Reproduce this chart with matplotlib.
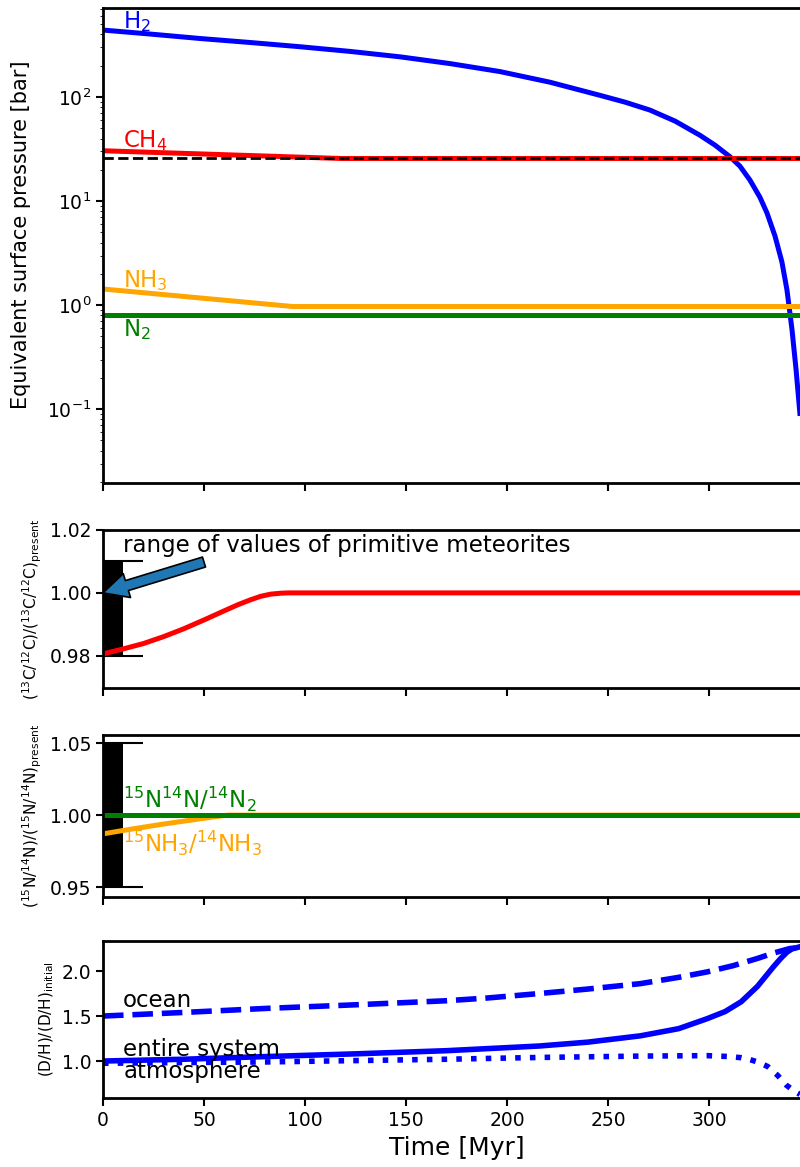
import numpy as np
import matplotlib
matplotlib.use('Agg')
import matplotlib.pyplot as plt

# Давления [bar]
t_h2 = [0, 23.3, 48, 72.8, 97.5, 122.3, 147, 171.8, 196.5, 221.3, 246, 258.4, 270.8,
        283.2, 295.5, 303, 310.4, 315.3, 320.3, 325.2, 328.7, 332.7, 336.1, 338.6,
        341.1, 343.1, 345]
p_h2 = [441, 404, 366, 335, 305, 275, 244, 210, 176, 139, 104, 89.5, 75,
        58.8, 43, 34.5, 26.7, 21.7, 15.9, 10.9, 7.7, 4.6, 2.6, 1.4,
        0.58, 0.24, 0.091]
t_ch4 = [0, 118, 350]
p_ch4 = [30.5, 25.7, 25.7]
p_ch4_ref = 25.7
t_nh3 = [0, 94, 350]
p_nh3 = [1.43, 0.97, 0.97]
p_n2 = 0.80

# Изотопы углерода
t_c = [0, 10, 20, 30, 40, 50, 60, 67, 73, 78, 83, 88, 92, 350]
r_c = [0.9806, 0.9822, 0.9839, 0.9861, 0.9886, 0.9914, 0.9943, 0.9963, 0.9978,
       0.9989, 0.9996, 0.9999, 1.0, 1.0]
meteor_c = (0.98, 1.01)

# Изотопы азота
t_nh3_iso = [0, 15, 30, 45, 55, 62, 350]
r_nh3_iso = [0.987, 0.9905, 0.9938, 0.9968, 0.9988, 1.0, 1.0]
r_n2_iso = 1.0
meteor_n = (0.95, 1.05)

# D/H
t_ocean = [0, 40, 81, 125, 170, 190, 216, 240, 266, 285, 299, 312, 324, 332, 340, 345]
dh_ocean = [1.5, 1.54, 1.585, 1.625, 1.67, 1.70, 1.75, 1.80, 1.86, 1.93, 1.99, 2.06,
            2.14, 2.20, 2.25, 2.26]
t_sys = [0, 40, 81, 125, 170, 216, 240, 266, 285, 299, 308, 316, 324, 328, 332,
         335.5, 338.6, 341, 343.5, 345]
dh_sys = [1.0, 1.02, 1.05, 1.08, 1.115, 1.167, 1.21, 1.28, 1.36, 1.47, 1.55, 1.66,
          1.83, 1.94, 2.05, 2.14, 2.21, 2.245, 2.26, 2.27]
t_atm = [0, 40, 81, 125, 170, 216, 266, 299, 310, 316, 320, 324, 329, 334, 338.4,
         342.6, 345]
dh_atm = [0.975, 0.983, 0.99, 1.005, 1.02, 1.04, 1.055, 1.06, 1.05, 1.037, 1.018,
          0.99, 0.94, 0.84, 0.73, 0.66, 0.63]

plt.rcParams['axes.linewidth'] = 2
plt.rcParams['xtick.major.width'] = 1.5
plt.rcParams['ytick.major.width'] = 1.5
plt.rcParams['xtick.major.size'] = 6
plt.rcParams['ytick.major.size'] = 5
plt.rcParams['xtick.labelsize'] = 13.5
plt.rcParams['ytick.labelsize'] = 13.5

fig = plt.figure(figsize=(8, 11.67), dpi=100)
L, W = 0.12875, 0.88375
ax1 = fig.add_axes([L, 0.5861, W, 0.4070])
ax2 = fig.add_axes([L, 0.4105, W, 0.1354])
ax3 = fig.add_axes([L, 0.2314, W, 0.1388])
ax4 = fig.add_axes([L, 0.0591, W, 0.1345])

fs = 16.5

# Панель 1
ax1.plot(t_h2, p_h2, color='blue', lw=3.6)
ax1.plot(t_ch4, p_ch4, color='red', lw=3.6)
ax1.axhline(p_ch4_ref, color='k', ls='--', lw=2)
ax1.plot(t_nh3, p_nh3, color='orange', lw=3.6)
ax1.axhline(p_n2, color='green', lw=3.6)
ax1.set_yscale('log')
ax1.set_ylim(0.0195, 718)
ax1.set_ylabel('Equivalent surface pressure [bar]', fontsize=15)
ax1.yaxis.set_label_coords(-0.102, 0.522)
ax1.text(10, 460, 'H$_2$', color='blue', fontsize=fs)
ax1.text(10, 33, 'CH$_4$', color='red', fontsize=fs)
ax1.text(10, 1.5, 'NH$_3$', color='orange', fontsize=fs)
ax1.text(10, 0.5, 'N$_2$', color='green', fontsize=fs)

# Панель 2
mc = (meteor_c[0] + meteor_c[1]) / 2
ax2.errorbar(0, mc, yerr=(meteor_c[1] - meteor_c[0]) / 2, color='k',
             elinewidth=28.8, capsize=28.8, capthick=1.5)
ax2.plot(t_c, r_c, color='red', lw=3.6)
ax2.set_ylim(0.9698, 1.02)
ax2.set_yticks([0.98, 1.00, 1.02])
ax2.set_ylabel(r'($^{13}$C/$^{12}$C)/($^{13}$C/$^{12}$C)$_{\rm present}$', fontsize=11)
ax2.text(10, 1.013, 'range of values of primitive meteorites', fontsize=fs)
ax2.annotate('', xy=(0, 1.0), xytext=(50, 1.0098),
             arrowprops=dict(facecolor='C0', edgecolor='k', lw=1.2,
                             width=7.5, headwidth=18, headlength=18))

# Панель 3
mn = (meteor_n[0] + meteor_n[1]) / 2
ax3.errorbar(0, mn, yerr=(meteor_n[1] - meteor_n[0]) / 2, color='k',
             elinewidth=28.8, capsize=28.8, capthick=1.5)
ax3.plot(t_nh3_iso, r_nh3_iso, color='orange', lw=3.6)
ax3.axhline(r_n2_iso, color='green', lw=3.6)
ax3.set_ylim(0.9432, 1.0556)
ax3.set_yticks([0.95, 1.00, 1.05])
ax3.set_ylabel(r'($^{15}$N/$^{14}$N)/($^{15}$N/$^{14}$N)$_{\rm present}$', fontsize=11)
ax3.text(10, 1.005, '$^{15}$N$^{14}$N/$^{14}$N$_2$', color='green', fontsize=fs)
ax3.text(10, 0.9745, '$^{15}$NH$_3$/$^{14}$NH$_3$', color='orange', fontsize=fs)

# Панель 4
ax4.plot(t_ocean, dh_ocean, color='blue', ls='--', lw=4)
ax4.plot(t_sys, dh_sys, color='blue', lw=4)
ax4.plot(t_atm, dh_atm, color='blue', ls=':', lw=4)
ax4.set_ylim(0.589, 2.333)
ax4.set_yticks([1.0, 1.5, 2.0])
ax4.set_ylabel(r'(D/H)/(D/H)$_{\rm initial}$', fontsize=11)
ax4.text(10, 1.6, 'ocean', fontsize=fs)
ax4.text(10, 1.06, 'entire system', fontsize=fs)
ax4.text(10, 0.81, 'atmosphere', fontsize=fs)
ax4.set_xlabel('Time [Myr]', fontsize=18)

for ax in (ax1, ax2, ax3, ax4):
    ax.set_xlim(0, 350)
    ax.set_xticks([0, 50, 100, 150, 200, 250, 300])
for ax in (ax1, ax2, ax3):
    ax.tick_params(labelbottom=False)

fig.savefig('out.png', dpi=100)
